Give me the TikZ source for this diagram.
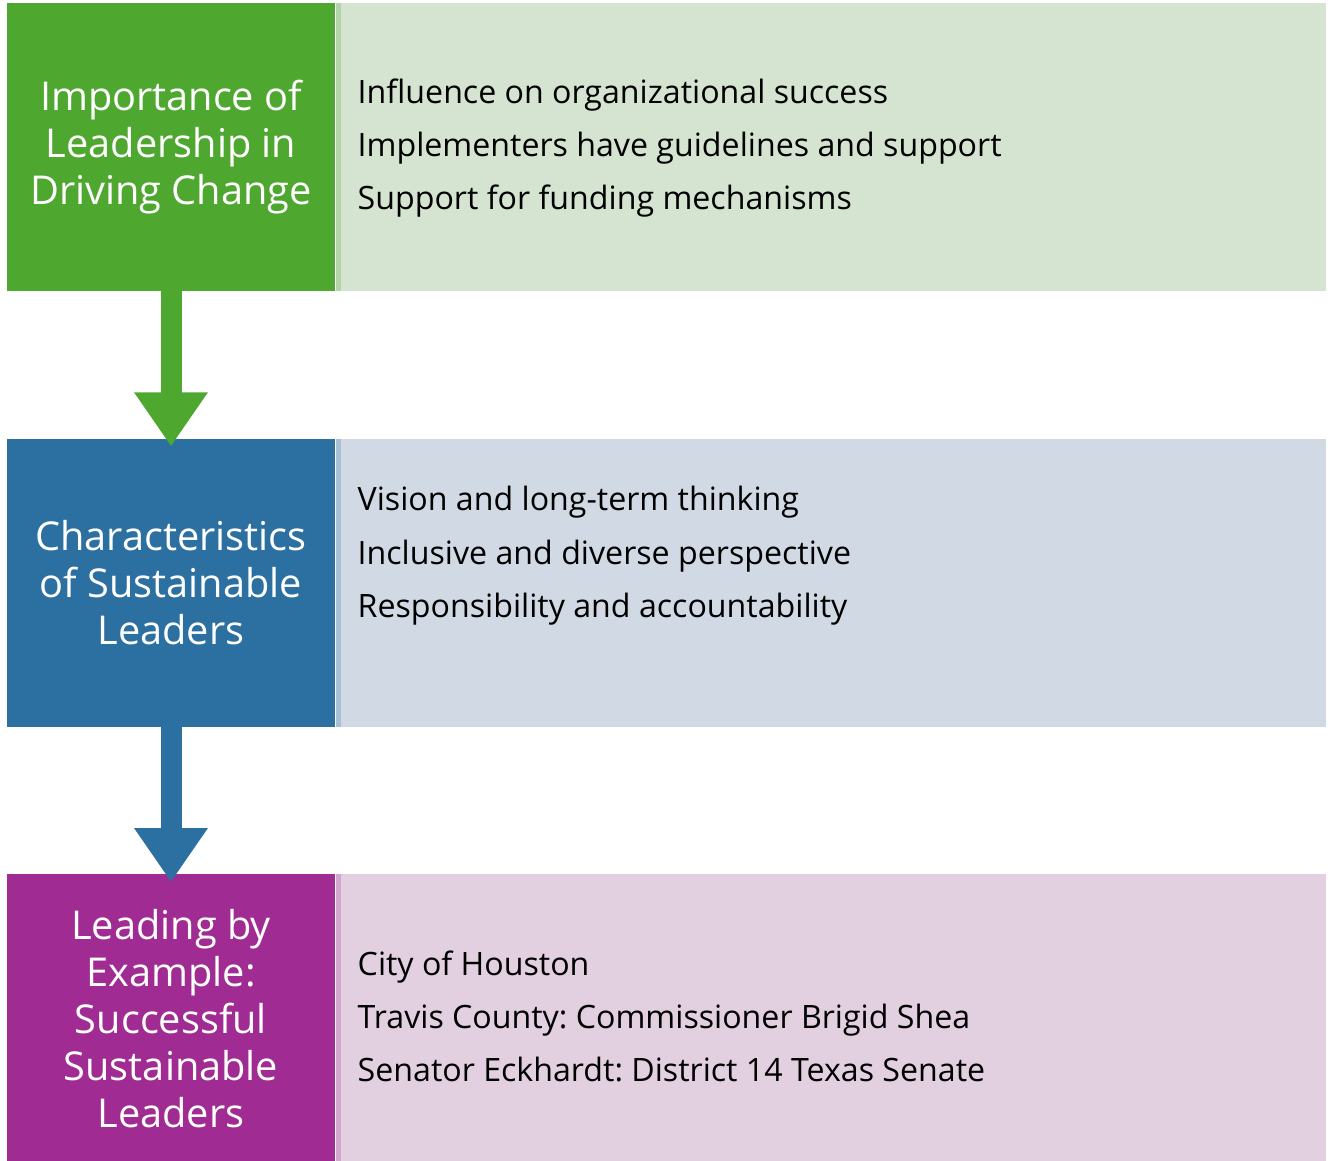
\documentclass[tikz,border=0pt]{standalone}
\usepackage{fontspec}
\setmainfont{Open Sans}
\frenchspacing
\usetikzlibrary{positioning, arrows.meta}

\definecolor{leaf}{HTML}{4EA72E}
\definecolor{leafpale}{HTML}{D5E3D1}
\definecolor{sea}{HTML}{2C70A2}
\definecolor{seapale}{HTML}{D1DAE4}
\definecolor{plum}{HTML}{A02B93}
\definecolor{plumpale}{HTML}{E2D0E1}

\tikzset{
  topic/.style={fill=#1, text=white, minimum width=6.56cm, minimum height=5.76cm,
    inner sep=0pt, align=center, font=\fontsize{22.6}{26.8}\selectfont},
  panel/.style={fill=#1pale, minimum width=19.8cm, minimum height=5.76cm, inner sep=0pt,
    path picture={\fill[#1!25!#1pale] (path picture bounding box.north west)
      rectangle ([xshift=0.1cm]path picture bounding box.south west);}},
  items/.style={align=left, inner sep=0pt, font=\fontsize{18.3}{30.2}\selectfont},
  flow/.style={draw=#1, line width=0.42cm,
    -{Triangle[width=1.40cm, length=1.08cm]}, shorten >=-0.16cm}
}

\begin{document}
\begin{tikzpicture}[node distance=2.94cm]
  \useasboundingbox (0,0) rectangle (26.56,-23.22);

  \node[topic=leaf] (imp) at (3.42,-2.94) {Importance of\\Leadership in\\Driving Change};
  \node[topic=sea] (chr) [below=of imp] {Characteristics\\of Sustainable\\Leaders};
  \node[topic=plum] (lead) [below=of chr] {Leading by\\Example:\\Successful\\Sustainable\\Leaders};

  \node[panel=leaf, anchor=west] (imppanel) at (imp.east) {};
  \node[panel=sea, anchor=west] (chrpanel) at (chr.east) {};
  \node[panel=plum, anchor=west] (leadpanel) at (lead.east) {};

  \node[items, anchor=west] (implist) at ([xshift=0.44cm, yshift=-0.02cm]imppanel.west)
    {Influence on organizational success\\Implementers have guidelines and support\\Support for funding mechanisms};
  \node[items, anchor=west] (chrlist) at ([xshift=0.44cm, yshift=0.54cm]chrpanel.west)
    {Vision and long-term thinking\\Inclusive and diverse perspective\\Responsibility and accountability};
  \node[items, anchor=west] (leadlist) at ([xshift=0.44cm, yshift=0.04cm]leadpanel.west)
    {City of Houston\\Travis County: Commissioner Brigid Shea\\Senator Eckhardt: District 14 Texas Senate};

  \draw[flow=leaf] (imp) -- (chr);
  \draw[flow=sea] (chr) -- (lead);
\end{tikzpicture}
\end{document}
